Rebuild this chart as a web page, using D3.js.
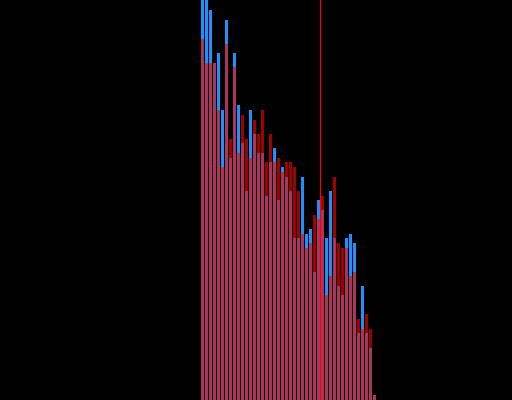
<!DOCTYPE html>
<meta charset="utf-8" />
<style>
  html,
  body {
    margin: 0;
    padding: 0;
    background: #000;
    overflow: hidden;
  }
</style>
<script src="https://d3js.org/d3.v7.min.js"></script>

<div id="my_dataviz"></div>

<script>
  // bin index for each bar
  const bins = d3.range(44);
  // counts per bin, blue series (first two run off the top)
  const blueCounts = [
    88, 86, 82, 71, 73, 61, 80, 51, 73, 62, 54, 44, 61, 56, 52, 52,
    43, 50, 53, 42, 49, 47, 44, 34, 34, 47, 35, 36, 27, 42, 40, 34,
    44, 34, 24, 22, 34, 35, 33, 14, 24, 14, 11, 1,
  ];
  // counts per bin, red series
  const redCounts = [
    76, 71, 71, 71, 61, 49, 75, 55, 70, 52, 60, 55, 51, 59, 56, 61,
    50, 56, 50, 51, 48, 50, 50, 49, 44, 35, 32, 33, 39, 38, 43, 22,
    26, 47, 33, 32, 32, 26, 27, 17, 15, 18, 15, 1,
  ];
  // marker line position (in bin units)
  const markerValue = 29.75;

  const width = 512;
  const height = 400;

  const svg = d3
    .select('#my_dataviz')
    .append('svg')
    .attr('width', width)
    .attr('height', height)
    .style('display', 'block')
    .style('background', '#000');

  const x = d3.scaleLinear().domain([0, 44]).range([201, 377]);
  const y = d3.scaleLinear().domain([0, 84.2]).range([height, 0]);

  const barW = x(1) - x(0) - 1;

  // blue bars underneath
  svg
    .append('g')
    .selectAll('rect')
    .data(bins)
    .enter()
    .append('rect')
    .attr('x', (d) => x(d))
    .attr('y', (d) => y(blueCounts[d]))
    .attr('width', barW)
    .attr('height', (d) => height - y(blueCounts[d]))
    .attr('shape-rendering', 'crispEdges')
    .style('fill', '#1e90ff');

  // translucent red bars on top
  svg
    .append('g')
    .selectAll('rect')
    .data(bins)
    .enter()
    .append('rect')
    .attr('x', (d) => x(d))
    .attr('y', (d) => y(redCounts[d]))
    .attr('width', barW)
    .attr('height', (d) => height - y(redCounts[d]))
    .attr('shape-rendering', 'crispEdges')
    .style('fill', '#ff0000')
    .style('opacity', 0.63);

  // vertical marker
  svg
    .append('line')
    .attr('x1', Math.floor(x(markerValue)) + 0.5)
    .attr('x2', Math.floor(x(markerValue)) + 0.5)
    .attr('y1', 0)
    .attr('y2', height)
    .style('stroke', '#ff0000')
    .style('stroke-width', 1.2);
</script>
